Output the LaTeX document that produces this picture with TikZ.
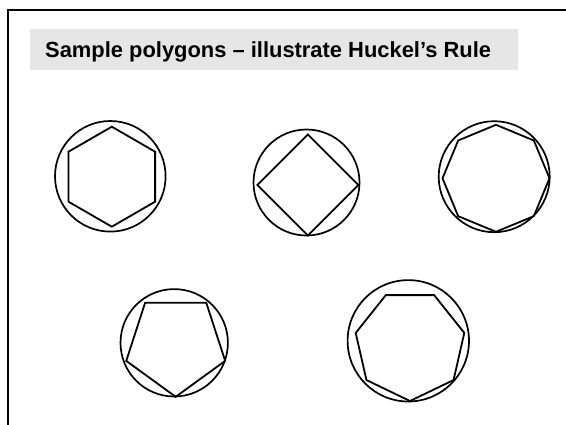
\documentclass[tikz,border=0pt]{standalone}
\usepackage{fontspec}
\setmainfont{Liberation Sans}
\usetikzlibrary{calc}
\definecolor{titlegray}{RGB}{230,230,230}
\begin{document}
\begin{tikzpicture}[x=1pt,y=-1pt,
  shape line/.style={line width=1.8pt,line join=miter},
  ring/.style={line width=1.7pt},
  frameline/.style={line width=2pt}]
\useasboundingbox (0,0) rectangle (566,424);
\clip (0,0) rectangle (566,424);
% frame
\coordinate (fbl) at (7.6,430);
\coordinate (ftl) at (7.6,10);
\coordinate (ftr) at (575,10);
\draw[frameline] (fbl) -- (ftl) -- (ftr);
% title
\fill[titlegray] (30,29.2) rectangle (518,70.4);
\node[anchor=base west,inner sep=0pt,font=\fontsize{21.9}{26}\selectfont\bfseries] (title) at (45,57.8) {Sample polygons – illustrate Huckel’s Rule};
% circles
\node[ring,draw,circle,minimum size=110.6pt,inner sep=0pt] (c6) at (110.3,176.3) {};
\node[ring,draw,circle,minimum size=106pt,inner sep=0pt] (c4) at (306.5,182.5) {};
\node[ring,draw,circle,minimum size=111pt,inner sep=0pt] (c8) at (494.2,176.7) {};
\node[ring,draw,circle,minimum size=107.4pt,inner sep=0pt] (c5) at (174.2,342.8) {};
\node[ring,draw,circle,minimum size=121.4pt,inner sep=0pt] (c7) at (408.3,340.8) {};
% polygons
\coordinate (p6) at (111.8,176.7);
\coordinate (p4) at (307.8,185);
\coordinate (p8) at (496,178.3);
\coordinate (p5) at (175.7,344.8);
\coordinate (p7) at (410,345.3);
\draw[shape line] ($(p6)+(90:50)$) \foreach \k in {1,...,5} { -- ($(p6)+(90+60*\k:50)$) } -- cycle;
\draw[shape line] ($(p4)+(0:50.5)$) \foreach \k in {1,...,3} { -- ($(p4)+(90*\k:50.5)$) } -- cycle;
\draw[shape line] ($(p8)+(0:53.5)$) \foreach \k in {1,...,7} { -- ($(p8)+(45*\k:53.5)$) } -- cycle;
\draw[shape line] ($(p5)+(90:52)$) \foreach \k in {1,...,4} { -- ($(p5)+(90+72*\k:52)$) } -- cycle;
\draw[shape line] ($(p7)+(90:55.7)$) \foreach \k in {1,...,6} { -- ($(p7)+(90+360/7*\k:55.7)$) } -- cycle;
\end{tikzpicture}
\end{document}
